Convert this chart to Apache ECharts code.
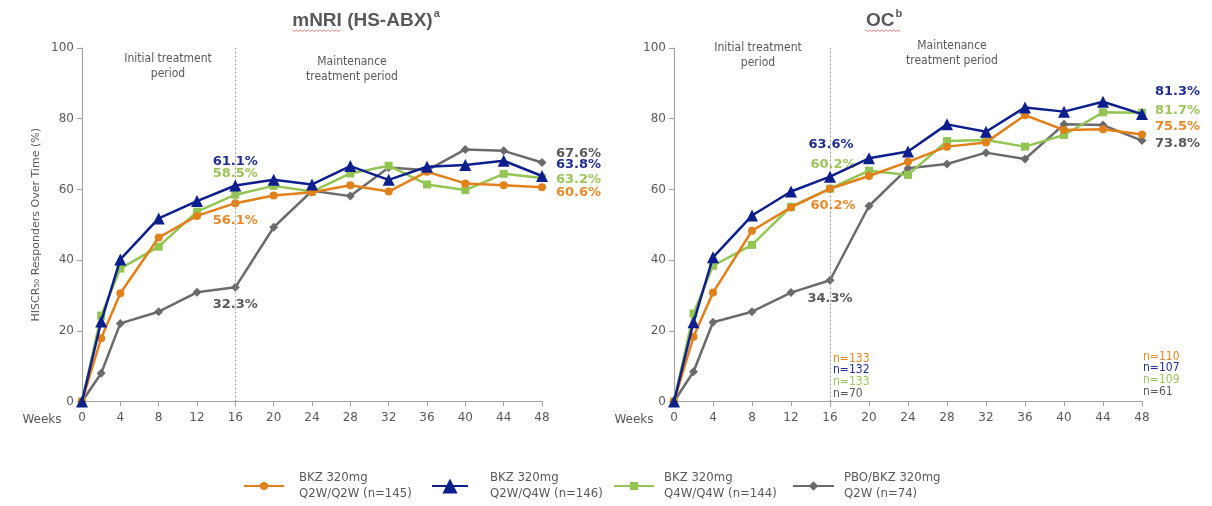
<!DOCTYPE html>
<html>
<head>
<meta charset="utf-8">
<script src="https://cdn.jsdelivr.net/npm/echarts@6/dist/echarts.min.js"></script>
<style>
  html, body { margin: 0; padding: 0; background: #ffffff; }
  #chart { width: 1212px; height: 506px; }
</style>
</head>
<body>
<div id="chart"></div>
<script>
// Visit weeks (x positions of every point)
const weeks = [0, 2, 4, 8, 12, 16, 20, 24, 28, 32, 36, 40, 44, 48];

// Treatment arms, in legend order
const armNames = [
  'BKZ 320mg Q2W/Q2W (n=145)',
  'BKZ 320mg Q2W/Q4W (n=146)',
  'BKZ 320mg Q4W/Q4W (n=144)',
  'PBO/BKZ 320mg Q2W (n=74)'
];
const armLegendLines = [
  ['BKZ 320mg', 'Q2W/Q2W (n=145)'],
  ['BKZ 320mg', 'Q2W/Q4W (n=146)'],
  ['BKZ 320mg', 'Q4W/Q4W (n=144)'],
  ['PBO/BKZ 320mg', 'Q2W (n=74)']
];

// HISCR50 responders (%), mNRI (HS-ABX)
const mnriQ2WQ2W = [0, 17.9, 30.6, 46.4, 52.5, 56.1, 58.3, 59.2, 61.2, 59.4, 65.0, 61.7, 61.2, 60.6];
const mnriQ2WQ4W = [0, 22.6, 40.2, 51.8, 56.7, 61.1, 62.7, 61.4, 66.6, 62.7, 66.4, 66.9, 68.1, 63.8];
const mnriQ4WQ4W = [0, 24.3, 37.6, 43.8, 53.7, 58.5, 61.0, 59.4, 64.5, 66.7, 61.4, 59.8, 64.4, 63.2];
const mnriPBO    = [0, 8.0, 22.1, 25.4, 30.9, 32.3, 49.3, 59.6, 58.1, 66.2, 65.4, 71.3, 70.9, 67.6];

// HISCR50 responders (%), observed cases
const ocQ2WQ2W = [0, 18.3, 30.8, 48.3, 54.9, 60.2, 63.8, 67.8, 72.1, 73.3, 81.0, 76.8, 77.0, 75.5];
const ocQ2WQ4W = [0, 22.4, 40.8, 52.6, 59.4, 63.6, 68.8, 70.7, 78.4, 76.3, 83.2, 82.0, 84.8, 81.3];
const ocQ4WQ4W = [0, 24.9, 38.4, 44.3, 55.1, 60.2, 65.3, 64.1, 73.7, 74.0, 72.1, 75.4, 81.8, 81.7];
const ocPBO    = [0, 8.4, 22.4, 25.4, 30.8, 34.3, 55.3, 66.0, 67.2, 70.4, 68.6, 78.4, 78.2, 73.8];

// Observed-case patient counts at week 16 and week 48
const ocCountWeek16 = [133, 132, 133, 70];
const ocCountWeek48 = [110, 107, 109, 61];

const panelTitles = [['mNRI (HS-ABX)', 'a'], ['OC', 'b']];
const periodLabels = ['Initial treatment\nperiod', 'Maintenance\ntreatment period'];
const periodSplitWeek = 16;

// ---- styling ----
const TXT = '#595959';
const AXIS = '#a0a0a0';
const lineColors  = ['#e2801a', '#0d1f8d', '#93c552', '#6b6b6b'];
const labelColors = ['#e8892a', '#1f2e8f', '#9cc65a', '#595959'];
const symbols     = ['circle', 'triangle', 'rect', 'diamond'];
const symbolSizes = [8, 12, 8, 9];
const drawOrder   = [3, 2, 0, 1];
const NARROW = '"Liberation Sans Narrow", "DejaVu Sans Condensed", sans-serif';

const panelData = [
  [mnriQ2WQ2W, mnriQ2WQ4W, mnriQ4WQ4W, mnriPBO],
  [ocQ2WQ2W, ocQ2WQ4W, ocQ4WQ4W, ocPBO]
];

// where the value labels sit relative to their point: index -> [align, dx, dy]
const labelPlacement = [
  [
    { 5: ['center', 0, 17],  13: ['left', 14, 5] },
    { 5: ['center', 0, -24], 13: ['left', 14, -11] },
    { 5: ['center', 0, -21], 13: ['left', 14, 2] },
    { 5: ['center', 0, 17],  13: ['left', 14, -9] }
  ],
  [
    { 5: ['center', 3, 17],  13: ['left', 13, -8] },
    { 5: ['center', 1, -32], 13: ['left', 13, -22] },
    { 5: ['center', 3, -24], 13: ['left', 13, -2] },
    { 5: ['center', 0, 18],  13: ['left', 13, 3] }
  ]
];

const grids = [
  { left: 82, top: 48, width: 460, height: 353.5 },
  { left: 674, top: 48, width: 468, height: 353.5 }
];

function pointData(values, placement, color) {
  return weeks.map((w, i) => {
    const item = { value: [w, values[i]] };
    if (placement[i]) {
      item.label = {
        show: true,
        position: 'inside',
        align: placement[i][0],
        verticalAlign: 'middle',
        color: color,
        fontFamily: 'DejaVu Sans',
        fontWeight: 'bold',
        fontSize: 13,
        formatter: p => p.value[1].toFixed(1) + '%'
      };
    }
    return item;
  });
}

const series = [];
[0, 1].forEach(panel => {
  drawOrder.forEach((arm, k) => {
    const placement = labelPlacement[panel][arm];
    const s = {
      name: armNames[arm],
      type: 'line',
      xAxisIndex: panel,
      yAxisIndex: panel,
      data: pointData(panelData[panel][arm], placement, labelColors[arm]),
      symbol: symbols[arm],
      symbolSize: symbolSizes[arm],
      showAllSymbol: true,
      z: 2 + k,
      lineStyle: { color: lineColors[arm], width: 2.5 },
      itemStyle: { color: lineColors[arm] },
      emphasis: { disabled: true },
      label: { show: false },
      labelLayout: params => {
        const p = placement[params.dataIndex];
        return p ? { dx: p[1], dy: p[2], hideOverlap: false } : {};
      }
    };
    if (k === 0) {
      s.markLine = {
        silent: true,
        symbol: ['none', 'none'],
        label: { show: false },
        lineStyle: { color: '#9a9a9a', type: [2, 2], width: 1 },
        data: [{ xAxis: periodSplitWeek }]
      };
    }
    series.push(s);
  });
});

function makeXAxis(i) {
  return {
    type: 'value', gridIndex: i, min: 0, max: 48, interval: 4,
    axisLine: { show: true, lineStyle: { color: AXIS, width: 1 } },
    axisTick: { show: true, length: 5, lineStyle: { color: AXIS } },
    axisLabel: { color: TXT, fontFamily: 'DejaVu Sans', fontSize: 12, margin: 10 },
    splitLine: { show: false }
  };
}
function makeYAxis(i) {
  const ax = {
    type: 'value', gridIndex: i, min: 0, max: 100, interval: 20,
    axisLine: { show: true, lineStyle: { color: AXIS, width: 1 } },
    axisTick: { show: true, length: 5, lineStyle: { color: AXIS } },
    axisLabel: { color: TXT, fontFamily: 'DejaVu Sans', fontSize: 12, margin: 8 },
    splitLine: { show: false }
  };
  if (i === 0) {
    ax.name = 'HISCR\u2085\u2080 Responders Over Time (%)';
    ax.nameLocation = 'middle';
    ax.nameGap = 40;
    ax.nameRotate = 90;
    ax.nameTextStyle = { color: TXT, fontFamily: 'DejaVu Sans', fontSize: 11 };
  }
  return ax;
}

// legend: one block per arm so each can sit exactly in its slot
// (the legend marker is 80% of itemHeight, so itemHeight sets the marker size)
const legendSlots = [
  { left: 243, itemWidth: 40, itemHeight: 10, gap: 10 },
  { left: 431, itemWidth: 36, itemHeight: 19, gap: 17 },
  { left: 613, itemWidth: 40, itemHeight: 10, gap: 5 },
  { left: 792, itemWidth: 41, itemHeight: 12, gap: 5 }
];
const legends = armNames.map((name, i) => ({
  data: [name],
  left: legendSlots[i].left,
  top: 470,
  padding: 0,
  itemWidth: legendSlots[i].itemWidth,
  itemHeight: legendSlots[i].itemHeight,
  selectedMode: false,
  formatter: () => armLegendLines[i].join('\n'),
  textStyle: {
    color: TXT, fontFamily: NARROW, fontSize: 13, lineHeight: 16,
    padding: [0, 0, 0, legendSlots[i].gap]
  }
}));

const chart = echarts.init(document.getElementById('chart'));
chart.setOption({
  animation: false,
  backgroundColor: '#ffffff',
  grid: grids,
  xAxis: [makeXAxis(0), makeXAxis(1)],
  yAxis: [makeYAxis(0), makeYAxis(1)],
  legend: legends,
  series: series
});

// ---- annotations placed from the axes ----
const ctx = document.createElement('canvas').getContext('2d');
const TITLE_FONT = 'bold 19px "Liberation Sans", Arial, sans-serif';
const SUP_FONT = 'bold 11px "Liberation Sans", Arial, sans-serif';
const graphics = [];

const titleCenters = [366, 884];
panelTitles.forEach((t, i) => {
  ctx.font = TITLE_FONT;
  const wMain = ctx.measureText(t[0]).width;
  ctx.font = SUP_FONT;
  const wSup = ctx.measureText(t[1]).width;
  const x0 = titleCenters[i] - (wMain + wSup + 1) / 2;
  graphics.push({
    type: 'text', x: x0, y: 21, silent: true,
    style: { text: t[0], font: TITLE_FONT, fill: TXT, align: 'left', verticalAlign: 'middle' }
  });
  graphics.push({
    type: 'text', x: x0 + wMain + 1, y: 14, silent: true,
    style: { text: t[1], font: SUP_FONT, fill: TXT, align: 'left', verticalAlign: 'middle' }
  });
  // spell-check style wavy underline under the first word
  ctx.font = TITLE_FONT;
  const wWord = ctx.measureText(t[0].split(' ')[0]).width + (i === 1 ? wSup : 0);
  const pts = [];
  for (let x = 0, k = 0; x <= wWord; x += 2, k++) pts.push([x0 + x, 30 + (k % 2 ? 1.5 : 0)]);
  graphics.push({
    type: 'polyline', silent: true,
    shape: { points: pts },
    style: { stroke: '#e06666', lineWidth: 0.8, fill: null }
  });
});

// period captions
const periodPos = [
  [[168, 66], [352, 69]],
  [[758, 55], [952, 53]]
];
[0, 1].forEach(p => {
  periodLabels.forEach((txt, j) => {
    graphics.push({
      type: 'text', x: periodPos[p][j][0], y: periodPos[p][j][1], silent: true,
      style: { text: txt, font: '12px ' + NARROW, fill: TXT, align: 'center', verticalAlign: 'middle', lineHeight: 15 }
    });
  });
});

// "Weeks" caption in front of each x axis
[[42, 420], [634, 420]].forEach(pos => {
  graphics.push({
    type: 'text', x: pos[0], y: pos[1], silent: true,
    style: { text: 'Weeks', font: '12px "DejaVu Sans", sans-serif', fill: TXT, align: 'center', verticalAlign: 'middle' }
  });
});

// patient counts in the OC panel
const axisBottom = grids[1].top + grids[1].height;
const x16 = chart.convertToPixel({ xAxisIndex: 1 }, 16);
const x48 = chart.convertToPixel({ xAxisIndex: 1 }, 48);
[[ocCountWeek16, x16 + 3, 43], [ocCountWeek48, x48 + 1, 45]].forEach(([counts, x, rise]) => {
  counts.forEach((n, i) => {
    graphics.push({
      type: 'text', x: x, y: axisBottom - rise + i * 11.7, silent: true,
      style: { text: 'n=' + n, font: '12px "DejaVu Sans Condensed", sans-serif', fill: labelColors[i], align: 'left', verticalAlign: 'middle' }
    });
  });
});

chart.setOption({ graphic: graphics });
</script>
</body>
</html>
